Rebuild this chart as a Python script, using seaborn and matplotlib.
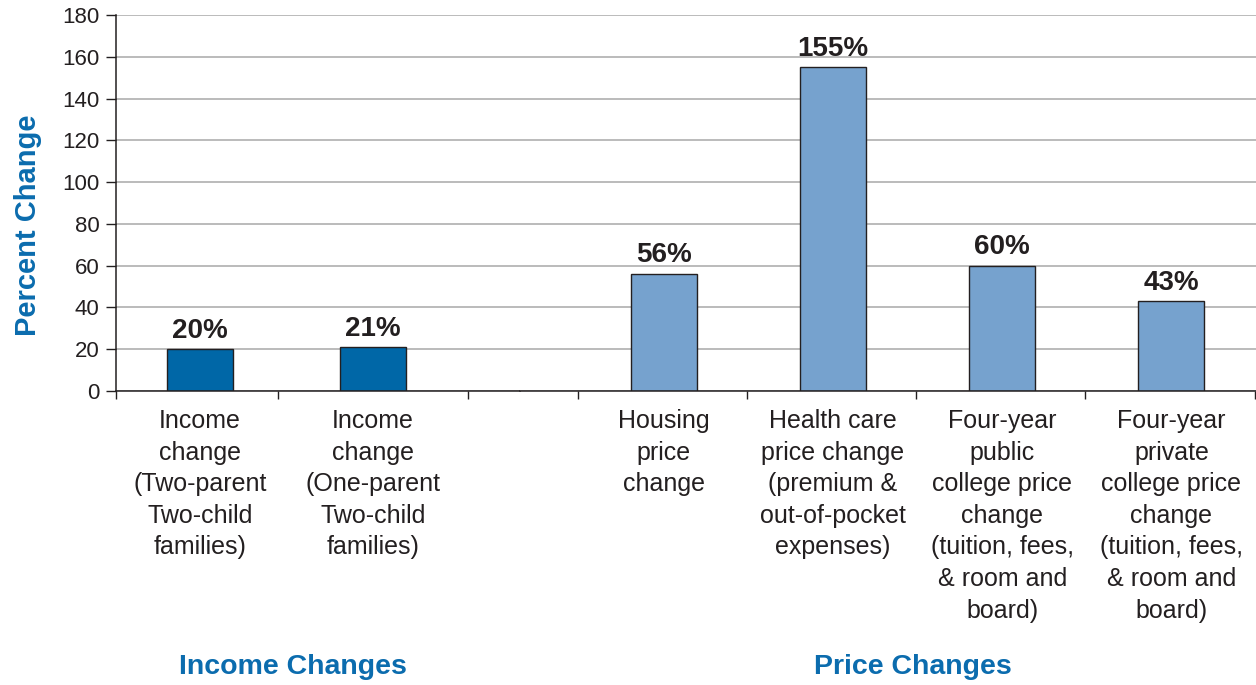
import pandas as pd
import seaborn as sns
import matplotlib.pyplot as plt
from matplotlib.ticker import FixedLocator

# data
income_labels = ["Income\nchange\n(Two-parent\nTwo-child\nfamilies)",
                 "Income\nchange\n(One-parent\nTwo-child\nfamilies)"]
income_values = [20, 21]
price_labels = ["Housing\nprice\nchange",
                "Health care\nprice change\n(premium &\nout-of-pocket\nexpenses)",
                "Four-year\npublic\ncollege price\nchange\n(tuition, fees,\n& room and\nboard)",
                "Four-year\nprivate\ncollege price\nchange\n(tuition, fees,\n& room and\nboard)"]
price_values = [56, 155, 60, 43]
group_names = ["Income Changes", "Price Changes"]
y_ticks = [0, 20, 40, 60, 80, 100, 120, 140, 160, 180]

INCOME_BLUE = "#0067a7"
PRICE_BLUE = "#76a2ce"
TEXT_BLUE = "#0b6cae"
DARK = "#231f20"
GRID = "#a8a8a8"

sns.set_theme(style="white")
plt.rcParams["font.family"] = ["Liberation Sans", "DejaVu Sans"]

df_inc = pd.DataFrame({"item": income_labels, "pct": income_values})
df_price = pd.DataFrame({"item": price_labels, "pct": price_values})

fig = plt.figure(figsize=(12.56, 6.85), dpi=100)
ax1 = fig.add_axes([0.09236, 0.4292, 0.32166, 0.5489])
ax2 = fig.add_axes([0.41401, 0.4292, 0.58599, 0.5489], sharey=ax1)

sns.barplot(data=df_inc, x="item", y="pct", hue="item", order=income_labels,
            palette=[INCOME_BLUE] * 2, legend=False, width=0.38,
            saturation=1, edgecolor=DARK, linewidth=1, ax=ax1)
sns.barplot(data=df_price, x="item", y="pct", hue="item", order=price_labels,
            palette=[PRICE_BLUE] * 4, legend=False, width=0.39,
            saturation=1, edgecolor=DARK, linewidth=1, ax=ax2)

ax1.set_xlim(-0.4855, 1.8497)
ax2.set_xlim(-0.85, 3.50)
ax1.set_ylim(0, 180)
ax1.set_yticks(y_ticks)

# category boundaries as minor ticks
ax1.xaxis.set_minor_locator(FixedLocator([-0.4855, 0.451, 1.549]))
ax2.xaxis.set_minor_locator(FixedLocator([-0.505, 0.49, 1.49, 2.49, 3.495]))

for ax in (ax1, ax2):
    ax.set_xlabel("")
    ax.set_ylabel("")
    ax.set_axisbelow(True)
    ax.yaxis.grid(True, color=GRID, linewidth=1.1)
    ax.xaxis.grid(False)
    for s in ["top", "right"]:
        ax.spines[s].set_visible(False)
    ax.spines["bottom"].set_color(DARK)
    ax.spines["bottom"].set_linewidth(1.1)
    ax.tick_params(axis="x", which="major", length=0, pad=13,
                   labelsize=18, labelcolor=DARK)
    ax.tick_params(axis="x", which="minor", bottom=True, length=6,
                   width=1, color=DARK)
    for lab in ax.get_xticklabels():
        lab.set_linespacing(1.4)
    for c in ax.containers:
        ax.bar_label(c, fmt="%d%%", padding=4, fontsize=20,
                     fontweight="bold", color=DARK)

ax1.spines["left"].set_color(DARK)
ax1.spines["left"].set_linewidth(1.1)
ax1.tick_params(axis="y", left=True, length=7, width=1, color=DARK,
                labelsize=16, labelcolor=DARK, pad=5)
ax2.spines["left"].set_visible(False)
ax2.tick_params(axis="y", left=False, labelleft=False)

fig.text(28 / 1256, 1 - 225 / 685, "Percent Change", rotation=90,
         ha="center", va="center", fontsize=21, fontweight="bold",
         color=TEXT_BLUE)
fig.text(293 / 1256, 1 - 667 / 685, group_names[0], ha="center",
         va="center", fontsize=20.5, fontweight="bold", color=TEXT_BLUE)
fig.text(913 / 1256, 1 - 667 / 685, group_names[1], ha="center",
         va="center", fontsize=20.5, fontweight="bold", color=TEXT_BLUE)

fig.savefig("out.png", dpi=100)
